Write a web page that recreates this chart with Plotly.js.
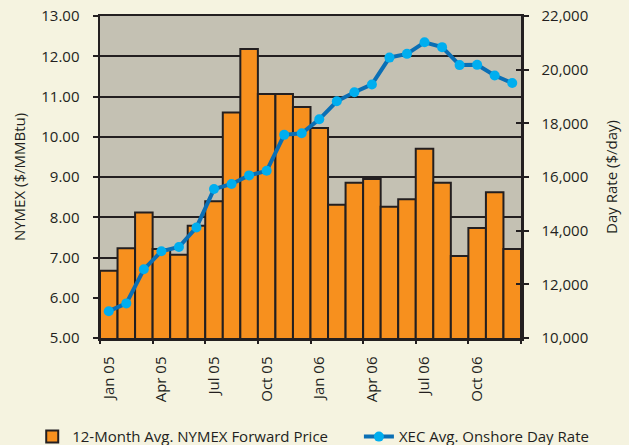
<!DOCTYPE html>
<html>
<head>
<meta charset="utf-8">
<script src="https://cdn.plot.ly/plotly-3.0.1.min.js"></script>
<style>html,body{margin:0;padding:0;background:#F5F3E0;}#chart{width:629px;height:445px;}</style>
</head>
<body>
<div id="chart"></div>
<script>
const months = ["Jan 05","Feb 05","Mar 05","Apr 05","May 05","Jun 05","Jul 05","Aug 05","Sep 05","Oct 05","Nov 05","Dec 05",
                "Jan 06","Feb 06","Mar 06","Apr 06","May 06","Jun 06","Jul 06","Aug 06","Sep 06","Oct 06","Nov 06","Dec 06"];
const nymexPrice = [6.67,7.23,8.12,7.21,7.07,7.79,8.40,10.60,12.18,11.06,11.06,10.74,
                    10.22,8.31,8.86,8.95,8.26,8.45,9.70,8.86,7.04,7.73,8.62,7.21];
const dayRate = [11000,11290,12560,13230,13390,14120,15550,15740,16060,16230,17570,17630,
                 18150,18820,19160,19450,20450,20590,21020,20840,20170,20180,19780,19500];
const xTickLabels = ["Jan 05","Apr 05","Jul 05","Oct 05","Jan 06","Apr 06","Jul 06","Oct 06"];
const leftTicks = [5,6,7,8,9,10,11,12,13];
const rightTicks = [10000,12000,14000,16000,18000,20000,22000];

const idx = months.map((m,i)=>i);
const labelPos = xTickLabels.map(l=>months.indexOf(l));
const boundaryPos = [];
for (let i=0;i<=months.length;i+=3) boundaryPos.push(i-0.5);

const ink = "#231F20";
const font = {family:"Open Sans, Noto Sans, sans-serif", size:15, color:ink};

const traces = [
  {type:"bar", x:idx, y:nymexPrice, width:1, name:"12-Month Avg. NYMEX Forward Price",
   marker:{color:"#F7901E", line:{color:ink, width:2}}, xaxis:"x", yaxis:"y", legend:"legend"},
  {type:"scatter", mode:"lines+markers", x:idx, y:dayRate, name:"XEC Avg. Onshore Day Rate",
   line:{color:"#0A6FB5", width:4}, marker:{color:"#00AEEF", size:10},
   xaxis:"x", yaxis:"y2", legend:"legend2"}
];

const layout = {
  width:629, height:445,
  margin:{l:100, r:108, t:16, b:107, autoexpand:false},
  paper_bgcolor:"#F5F3E0", plot_bgcolor:"#C4C1B3",
  font:font,
  showlegend:true,
  bargap:0,
  xaxis:{range:[-0.5,23.5], tickmode:"array", tickvals:labelPos, ticktext:xTickLabels,
         tickangle:-90, ticks:"", ticklabelstandoff:10, showgrid:false, zeroline:false,
         showline:true, linecolor:ink, linewidth:2.5, mirror:true, automargin:false},
  xaxis2:{overlaying:"x", range:[-0.5,23.5], tickmode:"array", tickvals:boundaryPos,
          ticks:"outside", ticklen:5, tickwidth:2, tickcolor:ink, showticklabels:false,
          showgrid:false, zeroline:false, showline:false},
  yaxis:{range:[5,13], tickmode:"array", tickvals:leftTicks, ticktext:leftTicks.map(v=>v.toFixed(2)),
         ticks:"outside", ticklen:5, tickwidth:2, tickcolor:ink, ticklabelstandoff:10,
         showgrid:true, gridcolor:ink, gridwidth:2, zeroline:false,
         showline:true, linecolor:ink, linewidth:2.5, automargin:false,
         title:{text:"NYMEX ($/MMBtu)", font:font, standoff:12}},
  yaxis2:{overlaying:"y", side:"right", range:[10000,22000], tickmode:"array", tickvals:rightTicks,
          ticktext:rightTicks.map(v=>v.toLocaleString("en-US")),
          ticks:"outside", ticklen:5, tickwidth:2, tickcolor:ink, ticklabelstandoff:10,
          showgrid:false, zeroline:false, showline:true, linecolor:ink, linewidth:2.5, automargin:false,
          title:{text:"Day Rate ($/day)", font:font, standoff:19}},
  yaxis3:{overlaying:"y", side:"right", range:[10000,22000], tickmode:"array", tickvals:rightTicks,
          ticks:"inside", ticklen:5, tickwidth:2, tickcolor:ink, showticklabels:false,
          showgrid:false, zeroline:false, showline:false},
  legend:{orientation:"h", x:-0.161, xanchor:"left", y:-0.307, yanchor:"middle",
          font:font, bgcolor:"rgba(0,0,0,0)"},
  legend2:{orientation:"h", x:0.615, xanchor:"left", y:-0.307, yanchor:"middle",
          font:font, bgcolor:"rgba(0,0,0,0)"}
};

traces.push({type:"scatter", x:[0], y:[5], xaxis:"x2", yaxis:"y", mode:"markers", marker:{opacity:0}, showlegend:false, hoverinfo:"skip"});
traces.push({type:"scatter", x:[0], y:[10000], xaxis:"x", yaxis:"y3", mode:"markers", marker:{opacity:0}, showlegend:false, hoverinfo:"skip"});

Plotly.newPlot("chart", traces, layout, {staticPlot:true});
</script>
</body>
</html>
